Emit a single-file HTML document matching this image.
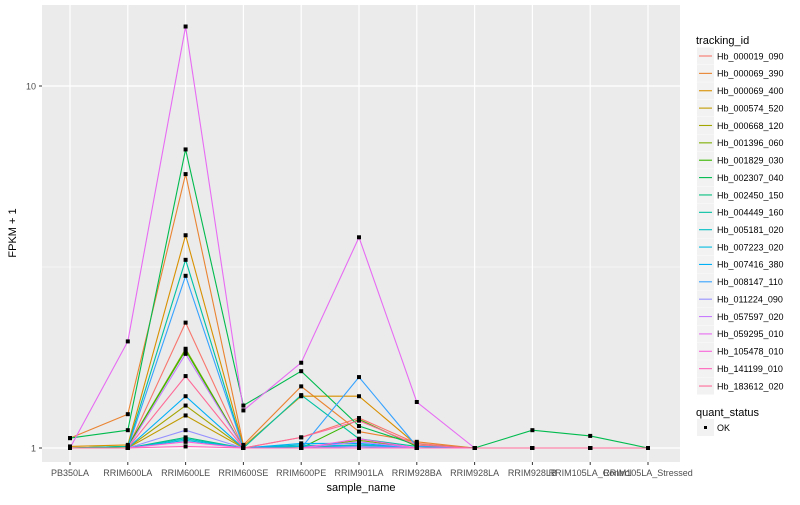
<!DOCTYPE html>
<html><head><meta charset="utf-8"><style>
body{margin:0;background:#fff;font-family:"Liberation Sans",sans-serif;}
svg text{font-family:"Liberation Sans",sans-serif;}
</style></head><body>
<svg id="c" width="800" height="500" xmlns="http://www.w3.org/2000/svg">
<rect x="0" y="0" width="800" height="500" fill="#fff"/>
<rect x="42" y="5" width="638" height="457" fill="#ebebeb"/>
<g id="grid"></g><g id="lines"></g><g id="pts"></g><g id="axes"></g><g id="legend"></g>
</svg>
<script>
const categories=["PB350LA","RRIM600LA","RRIM600LE","RRIM600SE","RRIM600PE","RRIM901LA","RRIM928BA","RRIM928LA","RRIM928LB","RRIM105LA_Control","RRIM105LA_Stressed"];
const seriesNames=["Hb_000019_090","Hb_000069_390","Hb_000069_400","Hb_000574_520","Hb_000668_120","Hb_001396_060","Hb_001829_030","Hb_002307_040","Hb_002450_150","Hb_004449_160","Hb_005181_020","Hb_007223_020","Hb_007416_380","Hb_008147_110","Hb_011224_090","Hb_057597_020","Hb_059295_010","Hb_105478_010","Hb_141199_010","Hb_183612_020"];
const s00=[1,1,2.22,1,1.07,1.21,1.03,1,1,1,1];
const s01=[1.065,1.24,5.71,1.02,1.48,1.11,1.04,1,1,1,1];
const s02=[1.01,1.02,3.87,1.01,1.39,1.39,1.02,1,1,1,1];
const s03=[1,1,1.23,1,1.01,1.02,1,1,1,1,1];
const s04=[1,1,1.31,1,1,1.02,1,1,1,1,1];
const s05=[1,1.01,1.88,1,1,1.05,1,1,1,1,1];
const s06=[1,1.01,1.86,1,1,1.2,1.01,1,1,1,1];
const s07=[1.065,1.12,6.68,1.31,1.63,1.15,1.02,1,1.12,1.08,1];
const s08=[1,1,1.07,1,1.01,1.01,1,1,1,1,1];
const s09=[1,1.01,3.31,1,1.40,1.06,1.01,1,1,1,1];
const s10=[1,1,1.06,1,1.02,1.01,1,1,1,1,1];
const s11=[1,1,1.05,1,1.01,1.02,1,1,1,1,1];
const s12=[1,1,1.39,1,1.03,1.03,1,1,1,1,1];
const s13=[1,1,2.99,1,1,1.57,1.01,1,1,1,1];
const s14=[1,1,1.12,1,1,1.01,1,1,1,1,1];
const s15=[1,1,1.82,1,1,1.04,1,1,1,1,1];
const s16=[1,1.97,14.6,1.27,1.72,3.82,1.34,1,1,1,1];
const s17=[1,1,1.04,1,1,1.06,1,1,1,1,1];
const s18=[1,1,1.01,1,1,1,1,1,1,1,1];
const s19=[1,1,1.58,1,1.07,1.19,1.02,1,1,1,1];
const seriesValues=[s00,s01,s02,s03,s04,s05,s06,s07,s08,s09,s10,s11,s12,s13,s14,s15,s16,s17,s18,s19];
const yTicks=[1,10];
const yMinor=[3.1623];

const NS="http://www.w3.org/2000/svg";
function mk(t,a,p){const e=document.createElementNS(NS,t);for(const k in a)e.setAttribute(k,a[k]);p.appendChild(e);return e;}
function xScale(i){return 70+i*57.8;}
function yScale(v){return 448-362*Math.log10(v);}
function hcl(h,c,l){const hr=h*Math.PI/180;const L=l,U=c*Math.cos(hr),V=c*Math.sin(hr);
 const Xn=95.047,Yn=100,Zn=108.883;const un=4*Xn/(Xn+15*Yn+3*Zn),vn=9*Yn/(Xn+15*Yn+3*Zn);
 const Y=L>8?Yn*Math.pow((L+16)/116,3):Yn*L/903.3;const u=U/(13*L)+un,v=V/(13*L)+vn;
 const X=9*Y*u/(4*v),Z=(12-3*u-20*v)*Y/(4*v);const x=X/100,y=Y/100,z=Z/100;
 let r=3.2406*x-1.5372*y-0.4986*z,g=-0.9689*x+1.8758*y+0.0415*z,b=0.0557*x-0.2040*y+1.0570*z;
 const f=t=>{t=t<=0.0031308?12.92*t:1.055*Math.pow(t,1/2.4)-0.055;return Math.round(Math.max(0,Math.min(1,t))*255);};
 return `rgb(${f(r)},${f(g)},${f(b)})`;}
const n=seriesNames.length;
const colors=seriesNames.map((_,i)=>hcl(15+360*i/n,100,65));

const grid=document.getElementById('grid');
yMinor.forEach(v=>{const l=mk('line',{x1:42,x2:680,y1:yScale(v),y2:yScale(v),stroke:'#fff','stroke-width':0.6},grid);
 });
yTicks.forEach(v=>{const l=mk('line',{x1:42,x2:680,y1:yScale(v),y2:yScale(v),stroke:'#fff','stroke-width':1.2},grid);
 });
categories.forEach((c,i)=>{const l=mk('line',{x1:xScale(i),x2:xScale(i),y1:5,y2:462,stroke:'#fff','stroke-width':1.2},grid);
 });

const lines=document.getElementById('lines'),pts=document.getElementById('pts');
seriesValues.forEach((s,k)=>{const d=s.map((v,i)=>(i?'L':'M')+xScale(i).toFixed(1)+','+yScale(v).toFixed(1)).join('');
 const p=mk('path',{d:d,fill:'none',stroke:colors[k],'stroke-width':1.1},lines);
 
 
 s.forEach((v,i)=>{const r=mk('rect',{x:xScale(i)-2,y:yScale(v)-2,width:4,height:4,fill:'#000'},pts);
  });});

const ax=document.getElementById('axes');
yTicks.forEach(v=>{mk('line',{x1:39,x2:42,y1:yScale(v),y2:yScale(v),stroke:'#333','stroke-width':1},ax);
 const t=mk('text',{x:36,y:yScale(v)+3.5,'text-anchor':'end','font-size':9,fill:'#4d4d4d'},ax);t.textContent=v;
 });
categories.forEach((c,i)=>{mk('line',{x1:xScale(i),x2:xScale(i),y1:462,y2:465,stroke:'#333','stroke-width':1},ax);
 const t=mk('text',{x:xScale(i),y:476,'text-anchor':'middle','font-size':9,fill:'#4d4d4d'},ax);t.textContent=c;
 });
let t=mk('text',{x:361,y:491,'text-anchor':'middle','font-size':11,fill:'#000'},ax);t.textContent='sample_name';

t=mk('text',{x:0,y:0,'text-anchor':'middle','font-size':11,fill:'#000',transform:'translate(16,233) rotate(-90)'},ax);t.textContent='FPKM + 1';


const lg=document.getElementById('legend');
t=mk('text',{x:696,y:44,'font-size':11,fill:'#000'},lg);t.textContent='tracking_id';

seriesNames.forEach((nm,k)=>{const y=56+k*17.37;
 const g=mk('g',{},lg);
 mk('rect',{x:697,y:y-8.5,width:17,height:17,fill:'#f2f2f2'},g);
 mk('line',{x1:699,x2:712,y1:y,y2:y,stroke:colors[k],'stroke-width':1.1},g);
 const tt=mk('text',{x:717,y:y+3.3,'font-size':9,fill:'#000'},g);tt.textContent=nm;});
t=mk('text',{x:696,y:416,'font-size':11,fill:'#000'},lg);t.textContent='quant_status';

const g2=mk('g',{},lg);
mk('rect',{x:697,y:419,width:17,height:17,fill:'#f2f2f2'},g2);
mk('rect',{x:704,y:426,width:3,height:3,fill:'#000'},g2);
t=mk('text',{x:717,y:431,'font-size':9,fill:'#000'},g2);t.textContent='OK';
</script>
</body></html>
